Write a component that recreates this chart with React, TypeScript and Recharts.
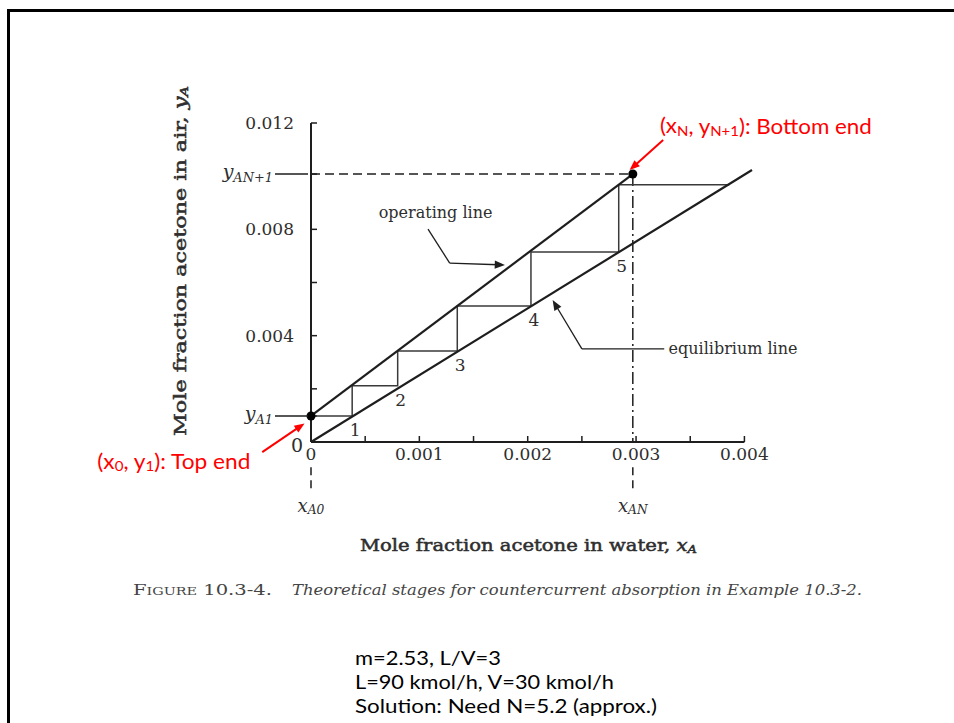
import React from 'react';
import { ScatterChart, Scatter, XAxis, YAxis, ReferenceLine, ReferenceDot } from 'recharts';

const ink = '#1e1e1e';
const grey = '#2e2e2e';
const red = '#ff0000';
const serif = '"DejaVu Serif", serif';
const sans = 'Lato, "Open Sans", sans-serif';

// x axis: mole fraction acetone in water
const xTicks = [0, 0.0005, 0.001, 0.0015, 0.002, 0.0025, 0.003, 0.0035, 0.004];
const xTickLabels = ['0', '', '0.001', '', '0.002', '', '0.003', '', '0.004'];

// y axis: mole fraction acetone in air
const yTicks = [0, 0.00098, 0.002, 0.004, 0.006, 0.008, 0.01008, 0.012];
const yTickLabels = ['0', 'y_A1', '', '0.004', '', '0.008', 'y_AN+1', '0.012'];

// equilibrium line
const eqX = [0, 0.00407];
const eqY = [0, 0.01023];

// operating line: top end (x0, y1) -> bottom end (xN, yN+1)
const opX = [0, 0.00297];
const opY = [0.00098, 0.01008];

// stage steps (corner on equilibrium line, y level on operating line)
const stepX = [0.00038, 0.0008, 0.00135, 0.00203, 0.00284, 0.00386];
const stepY = [0.00098, 0.00212, 0.00342, 0.00512, 0.00715, 0.00968];
const stageNames = ['1', '2', '3', '4', '5'];

// dashed guides below the x axis (they skip the tick labels)
const guideTop = -0.00095;
const guideBottom = -0.0019;

// annotation anchors (data units)
const opNote = [0.00115, 0.00862];
const opLeader = [[0.00108, 0.00801], [0.00128, 0.00673], [0.00179, 0.00666]];
const eqNote = [0.0033, 0.0035];
const eqLeader = [[0.00326, 0.0035], [0.0025, 0.0035], [0.00223, 0.00534]];
const bottomNote = [0.00322, 0.01193];
const bottomArrow = [[0.00325, 0.01136], [0.00294, 0.01023]];
const topNote = [-0.00056, -0.00068];
const topArrow = [[-0.00045, -0.00038], [-0.00006, 0.0007]];
const subLabelY = -0.00237;

const eqData = eqX.map((x, i) => ({ x, y: eqY[i] }));
const opData = opX.map((x, i) => ({ x, y: opY[i] }));
const stairData = [{ x: 0, y: stepY[0] }];
stepX.forEach((x, i) => {
  stairData.push({ x, y: stepY[i] });
  if (i < stepY.length - 1) stairData.push({ x, y: stepY[i + 1] });
});
const stageData = stageNames.map((n, i) => ({ x: stepX[i], y: stepY[i], n }));
const endData = [
  { x: opX[0], y: opY[0] },
  { x: opX[1], y: opY[1] },
];

const seg = (a: number[], b: number[]) => [
  { x: a[0], y: a[1] },
  { x: b[0], y: b[1] },
];

const noShape = () => <g />;

function Sub({ x, y, label, anchor = 'end', size = 17 }: any) {
  const [main, sub] = label.split('_');
  return (
    <text x={x} y={y} textAnchor={anchor} dominantBaseline="central" fontFamily={serif} fontSize={size} fill={grey}>
      <tspan fontStyle="italic">{main}</tspan>
      <tspan fontStyle="italic" fontSize={size * 0.68} dy={size * 0.3}>
        {sub}
      </tspan>
    </text>
  );
}

function YTick(props: any) {
  const { x, y, payload } = props;
  const label = yTickLabels[yTicks.indexOf(payload.value)];
  if (!label) return <g />;
  if (label.includes('_')) {
    return (
      <g>
        <Sub x={x - 21} y={y - 3} label={label} size={19} />
        <line x1={x - 19} x2={x + 14} y1={y} y2={y} stroke={ink} strokeWidth={1.5} />
      </g>
    );
  }
  const zero = label === '0';
  return (
    <text x={zero ? x + 9 : x} y={zero ? y + 3 : y} textAnchor="end" dominantBaseline="central" fontFamily={serif} fontSize={zero ? 19 : 17} fill={grey}>
      {label}
    </text>
  );
}

function XTick(props: any) {
  const { x, y, payload } = props;
  const label = xTickLabels[xTicks.indexOf(payload.value)];
  if (!label) return <g />;
  return (
    <text x={x} y={y} dy="0.71em" textAnchor="middle" fontFamily={serif} fontSize={17} fill={grey}>
      {label}
    </text>
  );
}

const arrowShape = (color: string, width: number, head: number) => (p: any) => {
  const { x1, y1, x2, y2 } = p;
  const a = Math.atan2(y2 - y1, x2 - x1);
  const h1 = [x2 - head * Math.cos(a - 0.38), y2 - head * Math.sin(a - 0.38)];
  const h2 = [x2 - head * Math.cos(a + 0.38), y2 - head * Math.sin(a + 0.38)];
  return (
    <g>
      <line x1={x1} y1={y1} x2={x2 - head * 0.6 * Math.cos(a)} y2={y2 - head * 0.6 * Math.sin(a)} stroke={color} strokeWidth={width} />
      <polygon points={`${x2},${y2} ${h1[0]},${h1[1]} ${h2[0]},${h2[1]}`} fill={color} />
    </g>
  );
};

const textShape = (render: (cx: number, cy: number) => React.ReactNode) => (p: any) => <g>{render(p.cx, p.cy)}</g>;

const stageShape = (p: any) => (
  <text x={p.cx + 3} y={p.cy + 14} textAnchor="middle" dominantBaseline="central" fontFamily={serif} fontSize={17} fill={grey}>
    {p.payload.n}
  </text>
);

export default function App() {
  return (
    <div style={{ position: 'absolute', left: 0, top: 0, width: 954, height: 723, overflow: 'hidden', background: '#fff' }}>
      <div style={{ position: 'absolute', left: 7, top: 9, width: 1000, height: 800, borderTop: '3px solid #000', borderLeft: '3px solid #000' }} />

      <div style={{ position: 'absolute', left: 0, top: 0 }}>
        <ScatterChart width={954} height={723} margin={{ top: 123, right: 202, bottom: 241, left: 251 }}>
          <XAxis
            type="number"
            dataKey="x"
            domain={[0, eqX[1]]}
            ticks={xTicks}
            interval={0}
            height={40}
            tickSize={-6}
            tickMargin={12}
            axisLine={false}
            tickLine={{ stroke: ink, strokeWidth: 1.5 }}
            tick={<XTick />}
          />
          <YAxis
            type="number"
            dataKey="y"
            domain={[0, 0.012]}
            ticks={yTicks}
            interval={0}
            width={60}
            tickSize={-6}
            tickMargin={23}
            axisLine={{ stroke: ink, strokeWidth: 2 }}
            tickLine={{ stroke: ink, strokeWidth: 1.5 }}
            tick={<YTick />}
          />
          <ReferenceLine segment={seg([0, 0], [xTicks[xTicks.length - 1], 0])} stroke={ink} strokeWidth={2} ifOverflow="visible" />

          {/* dashed guides to the column ends */}
          <ReferenceLine segment={seg([0, opY[1]], [opX[1], opY[1]])} stroke={ink} strokeWidth={1.5} strokeDasharray="9 5" ifOverflow="visible" />
          <ReferenceLine segment={seg([opX[1], opY[1]], [opX[1], 0])} stroke={ink} strokeWidth={1.5} strokeDasharray="12 4 2 4" ifOverflow="visible" />
          <ReferenceLine segment={seg([opX[1], guideTop], [opX[1], guideBottom])} stroke={ink} strokeWidth={1.5} strokeDasharray="8 5" ifOverflow="visible" />
          <ReferenceLine segment={seg([0, guideTop], [0, guideBottom])} stroke={ink} strokeWidth={1.5} strokeDasharray="8 5" ifOverflow="visible" />

          <Scatter data={stairData} line={{ stroke: '#3a3a3a', strokeWidth: 1.5 }} shape={noShape} isAnimationActive={false} />
          <Scatter data={eqData} line={{ stroke: ink, strokeWidth: 2.2 }} shape={noShape} isAnimationActive={false} />
          <Scatter data={opData} line={{ stroke: ink, strokeWidth: 2.2 }} shape={noShape} isAnimationActive={false} />
          <Scatter data={endData} fill="#000" shape="circle" isAnimationActive={false} />
          <Scatter data={stageData} shape={stageShape} isAnimationActive={false} />

          {/* operating line leader */}
          <ReferenceLine segment={seg(opLeader[0], opLeader[1])} stroke={ink} strokeWidth={1.3} ifOverflow="visible" />
          <ReferenceLine segment={seg(opLeader[1], opLeader[2])} stroke={ink} ifOverflow="visible" shape={arrowShape(ink, 1.3, 11)} />
          <ReferenceDot
            x={opNote[0]}
            y={opNote[1]}
            r={0}
            ifOverflow="visible"
            shape={textShape((cx, cy) => (
              <text x={cx} y={cy} textAnchor="middle" dominantBaseline="central" fontFamily={serif} fontSize={16} fill={grey}>
                operating line
              </text>
            ))}
          />

          {/* equilibrium line leader */}
          <ReferenceLine segment={seg(eqLeader[0], eqLeader[1])} stroke={ink} strokeWidth={1.3} ifOverflow="visible" />
          <ReferenceLine segment={seg(eqLeader[1], eqLeader[2])} stroke={ink} ifOverflow="visible" shape={arrowShape(ink, 1.3, 11)} />
          <ReferenceDot
            x={eqNote[0]}
            y={eqNote[1]}
            r={0}
            ifOverflow="visible"
            shape={textShape((cx, cy) => (
              <text x={cx} y={cy} textAnchor="start" dominantBaseline="central" fontFamily={serif} fontSize={16} fill={grey}>
                equilibrium line
              </text>
            ))}
          />

          {/* x_A0 and x_AN */}
          <ReferenceDot x={0} y={subLabelY} r={0} ifOverflow="visible" shape={textShape((cx, cy) => <Sub x={cx} y={cy} label="x_A0" anchor="middle" size={18} />)} />
          <ReferenceDot x={opX[1]} y={subLabelY} r={0} ifOverflow="visible" shape={textShape((cx, cy) => <Sub x={cx} y={cy} label="x_AN" anchor="middle" size={18} />)} />

          {/* red slide notes */}
          <ReferenceLine segment={seg(bottomArrow[0], bottomArrow[1])} stroke={red} ifOverflow="visible" shape={arrowShape(red, 2, 11)} />
          <ReferenceLine segment={seg(topArrow[0], topArrow[1])} stroke={red} ifOverflow="visible" shape={arrowShape(red, 2, 11)} />
          <ReferenceDot
            x={bottomNote[0]}
            y={bottomNote[1]}
            r={0}
            ifOverflow="visible"
            shape={textShape((cx, cy) => (
              <text x={cx} y={cy} textAnchor="start" dominantBaseline="central" fontFamily={sans} fontSize={21} fill={red} textLength={212} lengthAdjust="spacingAndGlyphs">
                (x<tspan fontSize={14} dy={5}>N</tspan>
                <tspan dy={-5}>, y</tspan>
                <tspan fontSize={14} dy={5}>N+1</tspan>
                <tspan dy={-5}>): Bottom end</tspan>
              </text>
            ))}
          />
          <ReferenceDot
            x={topNote[0]}
            y={topNote[1]}
            r={0}
            ifOverflow="visible"
            shape={textShape((cx, cy) => (
              <text x={cx} y={cy} textAnchor="end" dominantBaseline="central" fontFamily={sans} fontSize={21} fill={red} textLength={153} lengthAdjust="spacingAndGlyphs">
                (x<tspan fontSize={14} dy={5}>0</tspan>
                <tspan dy={-5}>, y</tspan>
                <tspan fontSize={14} dy={5}>1</tspan>
                <tspan dy={-5}>): Top end</tspan>
              </text>
            ))}
          />
        </ScatterChart>
      </div>

      <svg width={954} height={723} style={{ position: 'absolute', left: 0, top: 0, pointerEvents: 'none' }}>
        <text transform="translate(180,261) rotate(-90)" textAnchor="middle" dominantBaseline="central" fontFamily={serif} fontSize={16.5} fill={grey} stroke={grey} strokeWidth={0.5} textLength={350} lengthAdjust="spacingAndGlyphs">
          Mole fraction acetone in air, <tspan fontStyle="italic">y</tspan>
          <tspan fontStyle="italic" fontSize={11} dy={4}>A</tspan>
        </text>
        <text x={360} y={545} dominantBaseline="central" fontFamily={serif} fontSize={16.5} fill={grey} stroke={grey} strokeWidth={0.5} textLength={337} lengthAdjust="spacingAndGlyphs">
          Mole fraction acetone in water, <tspan fontStyle="italic">x</tspan>
          <tspan fontStyle="italic" fontSize={11} dy={4}>A</tspan>
        </text>
        <text x={133} y={590} dominantBaseline="central" fontFamily={serif} fontSize={15} fill="#444" textLength={139} lengthAdjust="spacingAndGlyphs" style={{ fontVariant: 'small-caps' }}>
          Figure 10.3-4.
        </text>
        <text x={292} y={590} dominantBaseline="central" fontFamily={serif} fontStyle="italic" fontSize={14} fill="#444" textLength={570} lengthAdjust="spacingAndGlyphs">
          Theoretical stages for countercurrent absorption in Example 10.3-2.
        </text>
        <text x={355} y={657} dominantBaseline="central" fontFamily={sans} fontSize={19} fill="#000" textLength={146} lengthAdjust="spacingAndGlyphs">
          m=2.53, L/V=3
        </text>
        <text x={355} y={681} dominantBaseline="central" fontFamily={sans} fontSize={19} fill="#000" textLength={259} lengthAdjust="spacingAndGlyphs">
          L=90 kmol/h, V=30 kmol/h
        </text>
        <text x={355} y={705} dominantBaseline="central" fontFamily={sans} fontSize={19} fill="#000" textLength={302} lengthAdjust="spacingAndGlyphs">
          Solution: Need N=5.2 (approx.)
        </text>
      </svg>
    </div>
  );
}
